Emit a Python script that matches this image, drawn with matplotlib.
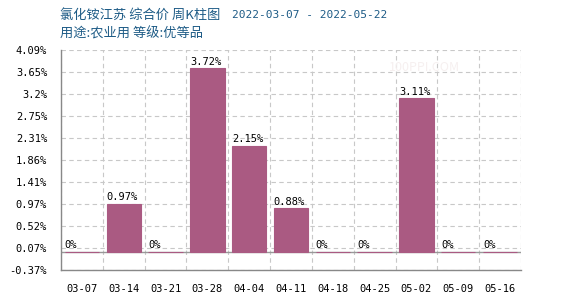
import numpy as np
import matplotlib
matplotlib.use("Agg")
import matplotlib.pyplot as plt

plt.rcParams['font.family'] = ['Noto Sans CJK SC', 'DejaVu Sans']

# weekly change data
weeks = ['03-07', '03-14', '03-21', '03-28', '04-04', '04-11',
         '04-18', '04-25', '05-02', '05-09', '05-16']
changes = [0, 0.97, 0, 3.72, 2.15, 0.88, 0, 0, 3.11, 0, 0]
bar_labels = ['0%', '0.97%', '0%', '3.72%', '2.15%', '0.88%',
              '0%', '0%', '3.11%', '0%', '0%']
ytick_labels = ['-0.37%', '0.07%', '0.52%', '0.97%', '1.41%', '1.86%',
                '2.31%', '2.75%', '3.2%', '3.65%', '4.09%']

bar_color = '#aa5a82'
title_color = '#1d5b86'
mono = 'DejaVu Sans Mono'

fig = plt.figure(figsize=(5.7, 3.0), dpi=100)
ax = fig.add_axes([61 / 570, 30 / 300, 460 / 570, 220 / 300])

x = np.arange(len(weeks))
width = 0.82
ax.bar(x, changes, width=width, color=bar_color, edgecolor=bar_color,
       linewidth=0.8, zorder=3)
ax.axhline(0, color='#999999', lw=1, zorder=2)

for xi, v, lab in zip(x, changes, bar_labels):
    if lab:
        ax.text(xi - width / 2, v + 0.03, lab, ha='left', va='bottom',
                fontsize=7.5, family=mono, color='black', zorder=4)

ymin, ymax = -0.37, 4.09
ax.set_ylim(ymin, ymax)
ax.set_xlim(-0.5, len(weeks) - 0.5)
yt = np.linspace(ymin, ymax, len(ytick_labels))
ax.set_yticks(yt)
ax.set_yticklabels(ytick_labels, family=mono, fontsize=7.5)
ax.set_xticks(x)
ax.set_xticklabels(weeks, family=mono, fontsize=7.5)
ax.tick_params(axis='both', length=0)
ax.tick_params(axis='x', pad=10)
ax.tick_params(axis='y', pad=10)

# dashed grid on slot boundaries
ax.set_xticks(np.arange(-0.5, len(weeks)), minor=True)
ax.tick_params(axis='x', which='minor', length=0)
ax.grid(True, which='minor', axis='x', color='#c8c8c8', ls=(0, (4, 3)), lw=0.8)
ax.grid(True, which='major', axis='y', color='#c8c8c8', ls=(0, (4, 3)), lw=0.8)
ax.grid(False, which='major', axis='x')
ax.set_axisbelow(True)

for s in ['top', 'right']:
    ax.spines[s].set_visible(False)
for s in ['left', 'bottom']:
    ax.spines[s].set_color('#888888')
    ax.spines[s].set_linewidth(1)

# faint watermark
ax.text(0.79, 0.92, '100PPI.COM', transform=ax.transAxes, fontsize=9,
        color='#f6f0f0', ha='center', va='center', zorder=1)

fig.text(60 / 570, 1 - 15 / 300, '氯化铵江苏 综合价 周K柱图', fontsize=9.5,
         color=title_color, va='center', ha='left')
fig.text(232 / 570, 1 - 15 / 300, '2022-03-07 - 2022-05-22', fontsize=8,
         family=mono, color=title_color, va='center', ha='left')
fig.text(60 / 570, 1 - 34 / 300, '用途:农业用 等级:优等品', fontsize=9.5,
         color=title_color, va='center', ha='left')

fig.savefig('out.png', dpi=100)
